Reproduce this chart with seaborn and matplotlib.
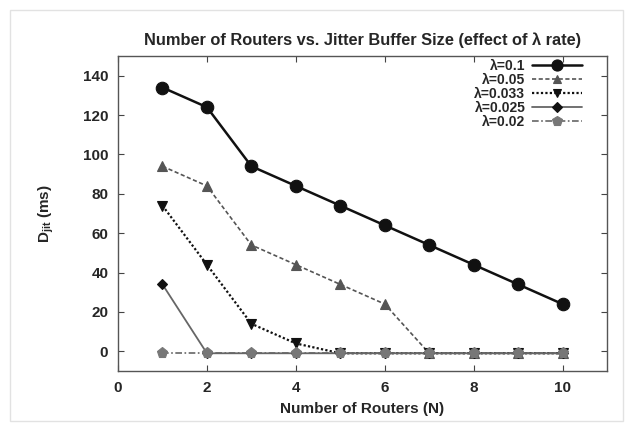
import matplotlib
matplotlib.use("Agg")
import matplotlib.pyplot as plt
import seaborn as sns
import pandas as pd
from matplotlib.lines import Line2D

routers = [1, 2, 3, 4, 5, 6, 7, 8, 9, 10]
lam_01 = [134, 124, 94, 84, 74, 64, 54, 44, 34, 24]
lam_005 = [94, 84, 54, 44, 34, 24, -1, -1, -1, -1]
lam_0033 = [74, 44, 14, 4, -1, -1, -1, -1, -1, -1]
lam_0025 = [34, -1, -1, -1, -1, -1, -1, -1, -1, -1]
lam_002 = [-1, -1, -1, -1, -1, -1, -1, -1, -1, -1]
labels = ["λ=0.1", "λ=0.05", "λ=0.033", "λ=0.025", "λ=0.02"]
series = [lam_01, lam_005, lam_0033, lam_0025, lam_002]

sns.set_style("ticks")
plt.rcParams["font.family"] = ["Liberation Sans", "DejaVu Sans"]
plt.rcParams["font.weight"] = "bold"
plt.rcParams["mathtext.fontset"] = "custom"
plt.rcParams["mathtext.rm"] = "Liberation Sans:bold"
plt.rcParams["mathtext.it"] = "Liberation Sans:bold"
plt.rcParams["mathtext.bf"] = "Liberation Sans:bold"

styles = [
    dict(color="#111111", lw=1.8, ls="-", marker="o", ms=9, mfc="#111111", mec="#111111", lms=8),
    dict(color="#555555", lw=1.2, ls=(0, (2.5, 1.5)), marker="^", ms=7, mfc="#555555", mec="#555555", lms=6),
    dict(color="#111111", lw=1.6, ls=(0, (1, 1)), marker="v", ms=7, mfc="#111111", mec="#111111", lms=6),
    dict(color="#666666", lw=1.3, ls="-", marker="D", ms=5.5, mfc="#111111", mec="#111111", lms=5),
    dict(color="#666666", lw=1.2, ls=(0, (4, 1.5, 1, 1.5)), marker="p", ms=8, mfc="#777777", mec="#777777", lms=7),
]

fig = plt.figure(figsize=(6.26, 4.23), dpi=100)
fig.patch.set_facecolor("white")
ax = fig.add_axes([118 / 626, 1 - 371 / 423, (607 - 118) / 626, (371 - 56) / 423])

handles = []
for lab, vals, st in zip(labels, series, styles):
    df = pd.DataFrame({"N": routers, "D": vals})
    sns.lineplot(data=df, x="N", y="D", ax=ax, color=st["color"], linewidth=st["lw"],
                 linestyle=st["ls"], marker=st["marker"], markersize=st["ms"],
                 markerfacecolor=st["mfc"], markeredgecolor=st["mec"], markeredgewidth=0.8)
    handles.append(Line2D([], [], color=st["color"], lw=st["lw"], ls=st["ls"], marker=st["marker"],
                          ms=st["lms"], mfc=st["mfc"], mec=st["mec"], mew=0.8))

ax.set_xlim(0, 11)
ax.set_ylim(-10, 150)
ax.set_xticks([0, 2, 4, 6, 8, 10])
ax.set_yticks([0, 20, 40, 60, 80, 100, 120, 140])
ax.tick_params(direction="in", top=True, right=True, labelsize=11, length=4, color="#444444", pad=7)
for lbl in ax.get_xticklabels() + ax.get_yticklabels():
    lbl.set_fontweight("bold")
for s in ax.spines.values():
    s.set_color("#555555")
    s.set_linewidth(1.0)

ax.set_title("Number of Routers vs. Jitter Buffer Size (effect of λ rate)", fontsize=11.8,
             fontweight="bold", pad=8)
ax.set_xlabel("Number of Routers (N)", fontsize=11, fontweight="bold", labelpad=5)
ax.set_ylabel("D$_{\\mathrm{jit}}$ (ms)", fontsize=11, fontweight="bold", labelpad=19)

leg = ax.legend(handles, labels, loc="upper right", bbox_to_anchor=(0.958, 1.005), frameon=False,
                markerfirst=False, fontsize=10, handlelength=3.6, handletextpad=0.5,
                labelspacing=0.0, borderpad=0.3, borderaxespad=0)
for col in leg._legend_handle_box.get_children():
    col.align = "right"
for t in leg.get_texts():
    t.set_fontweight("bold")

# light scan frame
fig.add_artist(plt.Rectangle((10 / 626, 1 - 421 / 423), 613 / 626, 411 / 423, transform=fig.transFigure,
                             fill=False, edgecolor="#e2e2e2", lw=1.0))

fig.savefig("out.png", dpi=100)
